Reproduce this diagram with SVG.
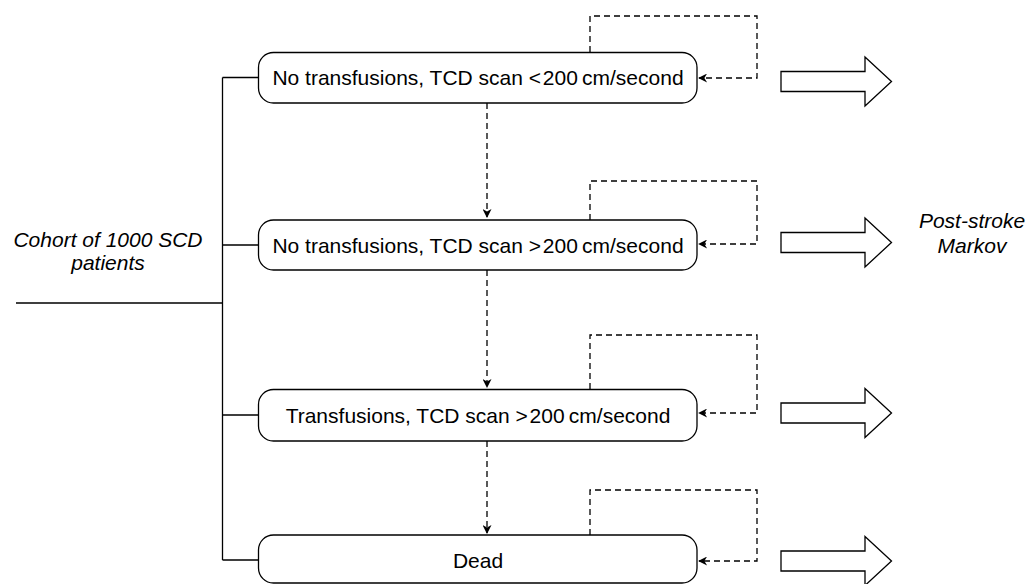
<svg xmlns="http://www.w3.org/2000/svg" width="1030" height="584" viewBox="0 0 1030 584">
<style>
.box{fill:#fff;stroke:#000;stroke-width:1.3}
.t{font-family:"Liberation Sans",Arial,sans-serif;font-size:21px;fill:#000;text-anchor:middle}
.it{font-style:italic}
.ln{fill:none;stroke:#000;stroke-width:1.3}
.dash{fill:none;stroke:#000;stroke-width:1.3;stroke-dasharray:6 4}
.big{fill:#fff;stroke:#000;stroke-width:1.3;stroke-linejoin:miter}
</style>
<defs>
<marker id="ah" viewBox="0 0 10 10" refX="9" refY="5" markerWidth="10" markerHeight="9" markerUnits="userSpaceOnUse" orient="auto">
<path d="M0,0 L10,5 L0,10 L3,5 Z" fill="#000"/>
</marker>
</defs>
<rect width="1030" height="584" fill="#fff"/>
<g id="cohort">
<text class="t it" x="108" y="247">Cohort of 1000 SCD</text>
<text class="t it" x="108" y="270">patients</text>
</g>
<g id="connectors">
<path class="ln" d="M16,303 H222.5 M222.5,77.5 V560 M222.5,77.5 H258.5 M222.5,245 H258.5 M222.5,415 H258.5 M222.5,560 H258.5"/>
<path class="dash" d="M487,103 V217" marker-end="url(#ah)"/>
<path class="dash" d="M487,270 V387" marker-end="url(#ah)"/>
<path class="dash" d="M487,441 V533" marker-end="url(#ah)"/>
<path class="dash" d="M590,52 V16 H757 V78 H699" marker-end="url(#ah)"/>
<path class="dash" d="M590,220 V181 H757 V244 H699" marker-end="url(#ah)"/>
<path class="dash" d="M590,389 V335 H757 V413 H699" marker-end="url(#ah)"/>
<path class="dash" d="M590,535 V490 H757 V561 H699" marker-end="url(#ah)"/>
</g>
<g id="state1">
<rect class="box" x="258.5" y="52.5" width="438.5" height="50.5" rx="15"/>
<text class="t" x="478" y="85">No transfusions, TCD scan &lt;&#8202;200&#8201;cm/second</text>
</g>
<g id="state2">
<rect class="box" x="258.5" y="220" width="438.5" height="50" rx="15"/>
<text class="t" x="478" y="252.5">No transfusions, TCD scan &gt;&#8202;200&#8201;cm/second</text>
</g>
<g id="state3">
<rect class="box" x="258.5" y="389.5" width="438.5" height="51.5" rx="15"/>
<text class="t" x="478" y="422.5">Transfusions, TCD scan &gt;&#8202;200&#8201;cm/second</text>
</g>
<g id="dead">
<rect class="box" x="258.5" y="535" width="438.5" height="48" rx="15"/>
<text class="t" x="478" y="567.5">Dead</text>
</g>
<g id="exit1"><path class="big" d="M781,71.5 H865 V57 L891.5,81.5 L865,106 V91.5 H781 Z"/></g>
<g id="exit2"><path class="big" d="M781,232.5 H865 V218 L891.5,242.5 L865,267 V252.5 H781 Z"/></g>
<g id="exit3"><path class="big" d="M781,403 H865 V388.5 L891.5,413 L865,437.5 V423 H781 Z"/></g>
<g id="exit4"><path class="big" d="M781,551 H865 V536.5 L891.5,561 L865,585.5 V571 H781 Z"/></g>
<g id="markov">
<text class="t it" x="972" y="228">Post-stroke</text>
<text class="t it" x="972" y="253">Markov</text>
</g>
</svg>
